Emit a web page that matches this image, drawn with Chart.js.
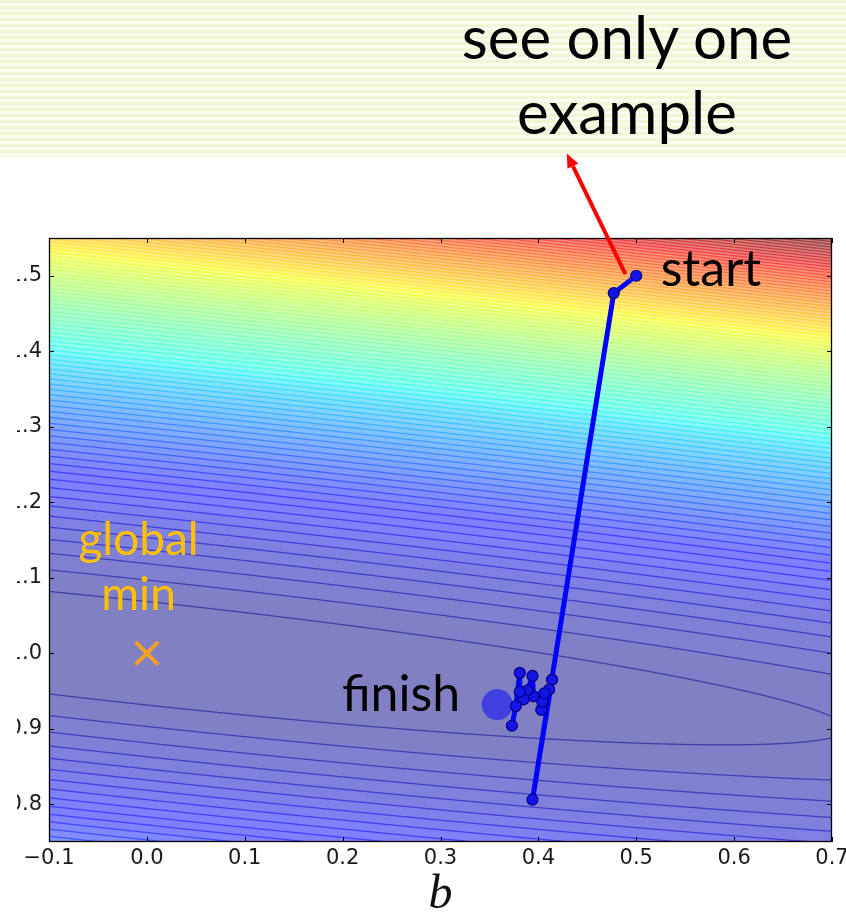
<!DOCTYPE html>
<html>
<head>
<meta charset="utf-8">
<script src="https://cdn.jsdelivr.net/npm/chart.js@4.4.1/dist/chart.umd.min.js"></script>
<style>
  html, body { margin: 0; padding: 0; background: #fff; width: 846px; height: 913px; overflow: hidden; }
  #band {
    position: absolute; left: 0; top: 0; width: 846px; height: 157px;
    background: repeating-linear-gradient(to bottom, #f2f6d6 0px, #f2f6d6 3px, #fafcee 3px, #fafcee 6px);
  }
  #note {
    position: absolute; left: 427px; top: -1px; width: 400px; text-align: center;
    font-family: Lato, "Open Sans", sans-serif; font-size: 60px; line-height: 75px; color: #000;
  }
  #clip { position: absolute; left: 17px; top: 0; width: 829px; height: 913px; overflow: hidden; }
  #wrap { position: absolute; left: -17px; top: 0; width: 846px; height: 913px; }
</style>
</head>
<body>
<div id="band"></div>
<div id="note">see only one<br>example</div>
<div id="clip"><div id="wrap"><canvas id="chart"></canvas></div></div>
<script>
// Axis ranges and tick values
const X_RANGE = [-0.1, 0.7];
const Y_RANGE = [0.75, 1.55];
const X_TICKS = [-0.1, 0.0, 0.1, 0.2, 0.3, 0.4, 0.5, 0.6, 0.7];
const Y_TICKS = [0.8, 0.9, 1.0, 1.1, 1.2, 1.3, 1.4, 1.5];

// Stochastic gradient descent path, one step per example (b, w)
const PATH_B = [0.500, 0.477, 0.394, 0.414, 0.411, 0.403, 0.404, 0.406, 0.395, 0.394, 0.389, 0.385, 0.381, 0.381, 0.377, 0.373];
const PATH_W = [1.500, 1.477, 0.806, 0.965, 0.952, 0.925, 0.936, 0.947, 0.943, 0.970, 0.951, 0.939, 0.949, 0.974, 0.930, 0.904];

// Where the path settles, and the true minimum of the loss
const FINISH_B = [0.358];
const FINISH_W = [0.932];
const GLOBAL_MIN_B = [0.0];
const GLOBAL_MIN_W = [1.0];

// Loss surface: J(b, w) = (dw + K*db)^2 + BETA*db^2 around the global minimum
const LOSS_K = 0.14;
const LOSS_BETA = 0.0092;
const LEVEL_STEP = 0.0047;   // spacing between contour levels
const LEVEL_MAX = 0.415;     // loss value mapped to the top of the colour map

function loss(b, w) {
  const db = b - GLOBAL_MIN_B[0];
  const dw = w - GLOBAL_MIN_W[0];
  const u = dw + LOSS_K * db;
  return u * u + LOSS_BETA * db * db;
}

// matplotlib "jet" colour map
function interp(t, xs, ys) {
  if (t <= xs[0]) return ys[0];
  for (let i = 1; i < xs.length; i++) {
    if (t <= xs[i]) return ys[i - 1] + (ys[i] - ys[i - 1]) * (t - xs[i - 1]) / (xs[i] - xs[i - 1]);
  }
  return ys[ys.length - 1];
}
function jet(t) {
  return [
    interp(t, [0, 0.35, 0.66, 0.89, 1], [0, 0, 1, 1, 0.5]),
    interp(t, [0, 0.125, 0.375, 0.64, 0.91, 1], [0, 0, 1, 1, 0, 0]),
    interp(t, [0, 0.11, 0.34, 0.65, 1], [0.5, 1, 1, 0, 0])
  ];
}

// Filled contours plus contour lines, sampled through the chart's scales
const contourPlugin = {
  id: 'contour',
  beforeDraw(chart) {
    const { ctx, chartArea, scales } = chart;
    const left = Math.round(chartArea.left), top = Math.round(chartArea.top);
    const W = Math.round(chartArea.right) - left, H = Math.round(chartArea.bottom) - top;
    const GW = W + 2, GH = H + 2;
    const q = new Float32Array(GW * GH);
    for (let j = 0; j < GH; j++) {
      const wv = scales.y.getValueForPixel(top + j - 0.5);
      for (let i = 0; i < GW; i++) {
        const bv = scales.x.getValueForPixel(left + i - 0.5);
        q[j * GW + i] = loss(bv, wv) / LEVEL_STEP;
      }
    }
    const nMax = LEVEL_MAX / LEVEL_STEP;
    const off = document.createElement('canvas');
    off.width = W; off.height = H;
    const octx = off.getContext('2d');
    const img = octx.createImageData(W, H);
    const d = img.data;
    for (let j = 0; j < H; j++) {
      for (let i = 0; i < W; i++) {
        const k = (j + 1) * GW + (i + 1);
        const v = q[k];
        const band = Math.floor(v);
        const fc = jet(Math.min(1, (band + 0.5) / nMax));
        let r = 255 * (0.5 + 0.5 * fc[0]);
        let g = 255 * (0.5 + 0.5 * fc[1]);
        let b = 255 * (0.5 + 0.5 * fc[2]);
        const n = Math.round(v);
        if (n >= 1) {
          const gx = (q[k + 1] - q[k - 1]) / 2;
          const gy = (q[k + GW] - q[k - GW]) / 2;
          const gm = Math.hypot(gx, gy) || 1e-6;
          const dist = Math.abs(v - n) / gm;
          const cov = Math.max(0, Math.min(1, 1.15 - dist));
          if (cov > 0) {
            const lc = jet(Math.min(1, n / nMax));
            const a = 0.5 * cov;
            r = r * (1 - a) + 255 * lc[0] * a;
            g = g * (1 - a) + 255 * lc[1] * a;
            b = b * (1 - a) + 255 * lc[2] * a;
          }
        }
        const p = (j * W + i) * 4;
        d[p] = r; d[p + 1] = g; d[p + 2] = b; d[p + 3] = 255;
      }
    }
    octx.putImageData(img, 0, 0);
    ctx.drawImage(off, left, top);
  }
};

// Axes frame with inward ticks on all four sides
const framePlugin = {
  id: 'frame',
  beforeDatasetsDraw(chart) {
    const { ctx, chartArea: { left, right, top, bottom }, scales } = chart;
    ctx.save();
    ctx.strokeStyle = '#000';
    ctx.lineWidth = 1;
    ctx.beginPath();
    for (const t of scales.x.ticks) {
      const px = Math.round(scales.x.getPixelForValue(t.value)) + 0.5;
      ctx.moveTo(px, bottom); ctx.lineTo(px, bottom - 5);
      ctx.moveTo(px, top); ctx.lineTo(px, top + 5);
    }
    for (const t of scales.y.ticks) {
      const py = Math.round(scales.y.getPixelForValue(t.value)) + 0.5;
      ctx.moveTo(left, py); ctx.lineTo(left + 5, py);
      ctx.moveTo(right, py); ctx.lineTo(right - 5, py);
    }
    ctx.stroke();
    ctx.lineWidth = 1.3;
    ctx.strokeRect(Math.round(left) + 0.5, Math.round(top) + 0.5, Math.round(right - left) - 1, Math.round(bottom - top) - 1);
    ctx.restore();
  }
};

// Text labels and the red arrow, anchored in data units
const ARROW_FROM = { b: 0.489, w: 1.502 };
const ARROW_TO = { b: 0.429, w: 1.662 };
const START_LABEL = { text: 'start', b: 0.525, w: 1.486 };
const FINISH_LABEL = { text: 'finish', b: 0.320, w: 0.923 };
const MIN_LABEL = { lines: ['global', 'min'], b: -0.0085, w: [1.130, 1.057] };

const annotationPlugin = {
  id: 'notes',
  afterDatasetsDraw(chart) {
    const { ctx, scales: { x, y } } = chart;
    ctx.save();
    // arrow
    const x0 = x.getPixelForValue(ARROW_FROM.b), y0 = y.getPixelForValue(ARROW_FROM.w);
    const x1 = x.getPixelForValue(ARROW_TO.b), y1 = y.getPixelForValue(ARROW_TO.w);
    const ang = Math.atan2(y1 - y0, x1 - x0);
    const headLen = 14, headHalf = 6;
    const bx = x1 - headLen * Math.cos(ang), by = y1 - headLen * Math.sin(ang);
    ctx.strokeStyle = '#ff0000';
    ctx.fillStyle = '#ff0000';
    ctx.lineWidth = 4;
    ctx.beginPath(); ctx.moveTo(x0, y0); ctx.lineTo(bx, by); ctx.stroke();
    ctx.beginPath();
    ctx.moveTo(x1, y1);
    ctx.lineTo(bx + headHalf * Math.sin(ang), by - headHalf * Math.cos(ang));
    ctx.lineTo(bx - headHalf * Math.sin(ang), by + headHalf * Math.cos(ang));
    ctx.closePath(); ctx.fill();

    ctx.textBaseline = 'alphabetic';
    ctx.fillStyle = '#000';
    ctx.font = '50px Lato, "Open Sans", sans-serif';
    ctx.textAlign = 'left';
    ctx.fillText(START_LABEL.text, x.getPixelForValue(START_LABEL.b), y.getPixelForValue(START_LABEL.w));
    ctx.textAlign = 'right';
    ctx.fillText(FINISH_LABEL.text, x.getPixelForValue(FINISH_LABEL.b), y.getPixelForValue(FINISH_LABEL.w));
    ctx.fillStyle = '#ffc000';
    ctx.font = '46px Lato, "Open Sans", sans-serif';
    ctx.textAlign = 'center';
    MIN_LABEL.lines.forEach((t, i) => ctx.fillText(t, x.getPixelForValue(MIN_LABEL.b), y.getPixelForValue(MIN_LABEL.w[i])));
    ctx.restore();
  }
};

const fmt = v => (v < 0 ? '\u2212' : '') + Math.abs(v).toFixed(1);
const tickFont = { family: '"DejaVu Sans", sans-serif', size: 21 };

new Chart(document.getElementById('chart'), {
  type: 'scatter',
  data: {
    datasets: [
      {
        label: 'SGD path',
        data: PATH_B.map((b, i) => ({ x: b, y: PATH_W[i] })),
        showLine: true,
        borderColor: '#0000ff',
        borderWidth: 5,
        borderJoinStyle: 'round',
        tension: 0,
        pointRadius: 5.5,
        pointBackgroundColor: '#1414e6',
        pointBorderColor: '#000080',
        pointBorderWidth: 1.2
      },
      {
        label: 'finish',
        data: FINISH_B.map((b, i) => ({ x: b, y: FINISH_W[i] })),
        pointRadius: 15.5,
        pointBackgroundColor: 'rgba(0,0,255,0.5)',
        pointBorderWidth: 0
      },
      {
        label: 'global min',
        data: GLOBAL_MIN_B.map((b, i) => ({ x: b, y: GLOBAL_MIN_W[i] })),
        pointStyle: 'crossRot',
        pointRadius: 16,
        pointBorderColor: '#f5a024',
        pointBorderWidth: 4
      }
    ]
  },
  options: {
    responsive: true,
    maintainAspectRatio: false,
    animation: false,
    events: [],
    layout: { autoPadding: false, padding: { left: 0, top: 238, right: 14, bottom: 0 } },
    plugins: { legend: { display: false }, tooltip: { enabled: false } },
    scales: {
      x: {
        type: 'linear', min: X_RANGE[0], max: X_RANGE[1],
        afterBuildTicks: s => { s.ticks = X_TICKS.map(v => ({ value: v })); },
        afterFit: s => { s.height = 71; s.paddingLeft = 0; s.paddingRight = 0; },
        grid: { display: false, drawTicks: false },
        border: { display: false },
        ticks: { font: tickFont, color: '#1a1a1a', padding: 4, maxRotation: 0, autoSkip: false, callback: v => fmt(v) },
        title: { display: true, text: 'b', color: '#111', padding: 0,
                 font: { family: '"Liberation Serif", serif', style: 'italic', size: 48, lineHeight: 0.75 } }
      },
      y: {
        type: 'linear', min: Y_RANGE[0], max: Y_RANGE[1],
        afterBuildTicks: s => { s.ticks = Y_TICKS.map(v => ({ value: v })); },
        afterFit: s => { s.width = 49; s.paddingTop = 0; s.paddingBottom = 0; },
        grid: { display: false, drawTicks: false },
        border: { display: false },
        ticks: { font: tickFont, color: '#1a1a1a', padding: 7, autoSkip: false, callback: v => fmt(v) }
      }
    }
  },
  plugins: [contourPlugin, framePlugin, annotationPlugin]
});
</script>
</body>
</html>
